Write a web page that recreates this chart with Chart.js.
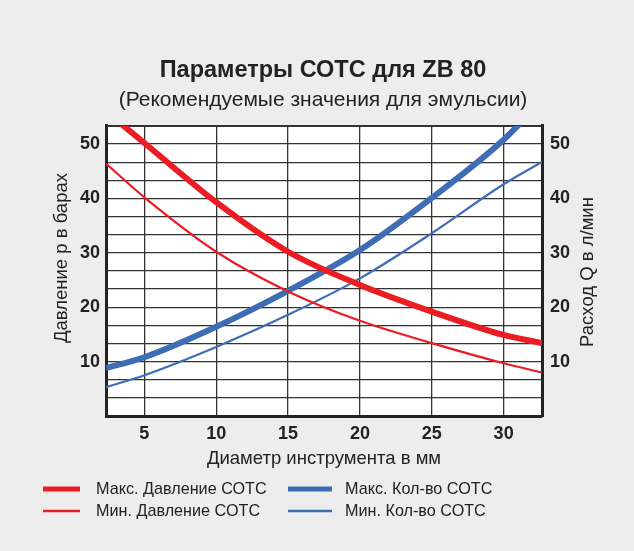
<!DOCTYPE html>
<html>
<head>
<meta charset="utf-8">
<script src="https://cdn.jsdelivr.net/npm/chart.js"></script>
<style>
  body { margin: 0; background: #ededed; }
  canvas { display: block; }
</style>
</head>
<body>
<canvas id="myChart" width="634" height="551"></canvas>
<script>
// данные
const diameters   = [2.33, 5, 10, 15, 20, 25, 30, 32.67];
const maxPressure = [56.0, 50.2, 39.3, 30.2, 24.1, 19.2, 14.9, 13.4];
const minPressure = [46.4, 40.2, 30.2, 22.9, 17.5, 13.4, 9.7, 8.0];
const maxFlow     = [8.8, 10.8, 16.4, 23.0, 30.5, 40.1, 50.8, 58.0];
const minFlow     = [5.3, 7.5, 12.7, 18.6, 25.3, 33.6, 42.6, 46.7];

const xTicks = [5, 10, 15, 20, 25, 30];
const yLabels = [10, 20, 30, 40, 50];
const yGridStep = 10 / 3;
const yMax = 160 / 3;

const titleText = 'Параметры СОТС для ZB 80';
const subtitleText = '(Рекомендуемые значения для эмульсии)';
const xTitle = 'Диаметр инструмента в мм';
const yTitle = 'Давление р в барах';
const y2Title = 'Расход Q в л/мин';

const RED = '#ec1c24';
const BLUE = '#3e6db5';
const FONT = '"Liberation Sans", Arial, sans-serif';
const TEXT = '#222';

const pts = (ys) => diameters.map((d, i) => ({ x: d, y: ys[i] }));

function yGrid(scale) {
  scale.ticks = [];
  for (let i = 0; i <= 16; i++) scale.ticks.push({ value: i * yGridStep });
}
function yLabel(value) {
  const v = Math.round(value);
  return (Math.abs(value - v) < 0.01 && yLabels.includes(v)) ? String(v) : '';
}

// фон, подписи осей Y и легенда
const extras = {
  id: 'extras',
  beforeDraw(chart) {
    const { ctx, chartArea: a } = chart;
    ctx.save();
    ctx.fillStyle = '#ededed';
    ctx.fillRect(0, 0, chart.width, chart.height);
    ctx.fillStyle = '#fff';
    ctx.fillRect(a.left, a.top, a.right - a.left, a.bottom - a.top);
    ctx.restore();
  },
  afterDraw(chart) {
    const ctx = chart.ctx;
    ctx.save();
    ctx.fillStyle = TEXT;
    ctx.font = '18.5px ' + FONT;
    ctx.textAlign = 'center';
    ctx.textBaseline = 'middle';
    [[yTitle, 62, 258], [y2Title, 588, 272]].forEach(([t, x, y]) => {
      ctx.save();
      ctx.translate(x, y);
      ctx.rotate(-Math.PI / 2);
      ctx.fillText(t, 0, 0);
      ctx.restore();
    });

    // легенда в две колонки
    const cols = [{ x0: 43, x1: 80, tx: 96 }, { x0: 288, x1: 332, tx: 345 }];
    const rows = [489, 511];
    ctx.textAlign = 'left';
    ctx.font = '16.2px ' + FONT;
    chart.data.datasets.forEach((ds, i) => {
      const c = cols[Math.floor(i / 2)];
      const y = rows[i % 2];
      ctx.strokeStyle = ds.borderColor;
      ctx.lineWidth = ds.borderWidth > 3 ? 5 : 2.5;
      ctx.beginPath();
      ctx.moveTo(c.x0, y);
      ctx.lineTo(c.x1, y);
      ctx.stroke();
      ctx.fillStyle = TEXT;
      ctx.fillText(ds.label, c.tx, y + 1);
    });
    ctx.restore();
  }
};

new Chart(document.getElementById('myChart'), {
  type: 'line',
  data: {
    datasets: [
      { label: 'Макс. Давление СОТС', data: pts(maxPressure), borderColor: RED, borderWidth: 6, yAxisID: 'y' },
      { label: 'Мин. Давление СОТС', data: pts(minPressure), borderColor: RED, borderWidth: 2.2, yAxisID: 'y' },
      { label: 'Макс. Кол-во СОТС', data: pts(maxFlow), borderColor: BLUE, borderWidth: 6, yAxisID: 'y2' },
      { label: 'Мин. Кол-во СОТС', data: pts(minFlow), borderColor: BLUE, borderWidth: 2.2, yAxisID: 'y2' }
    ]
  },
  options: {
    responsive: false,
    animation: false,
    devicePixelRatio: 1,
    layout: { padding: { left: 12, right: 0, top: 0, bottom: 80 } },
    elements: {
      point: { radius: 0, hoverRadius: 0 },
      line: { cubicInterpolationMode: 'monotone', fill: false, borderCapStyle: 'butt' }
    },
    plugins: {
      legend: { display: false },
      tooltip: { enabled: false },
      title: {
        display: true, text: titleText, color: TEXT,
        font: { family: FONT, size: 23.5, weight: 'bold' },
        padding: { top: 56, bottom: 3 }
      },
      subtitle: {
        display: true, text: subtitleText, color: TEXT,
        font: { family: FONT, size: 21 },
        padding: { top: 0, bottom: 13.5 }
      }
    },
    scales: {
      x: {
        type: 'linear', min: 2.33, max: 32.67,
        afterBuildTicks: (s) => { s.ticks = xTicks.map(v => ({ value: v })); },
        afterFit: (s) => { s.height = 55; },
        grid: { color: '#333', lineWidth: 1.3, drawTicks: false },
        border: { display: true, width: 3, color: '#222' },
        ticks: { color: TEXT, padding: 7, autoSkip: false, maxRotation: 0, font: { family: FONT, size: 18, weight: 'bold' } },
        title: { display: true, text: xTitle, color: TEXT, font: { family: FONT, size: 18.5 }, padding: { top: 0, bottom: 1 } }
      },
      y: {
        position: 'left', min: 0, max: yMax,
        afterBuildTicks: yGrid,
        afterFit: (s) => { s.width = 94; },
        grid: {
          color: '#333', drawTicks: false,
          lineWidth: (c) => c.index === 16 ? 2 : 1.3
        },
        border: { display: true, width: 3, color: '#222' },
        ticks: { color: TEXT, padding: 6, autoSkip: false, callback: yLabel, font: { family: FONT, size: 18, weight: 'bold' } }
      },
      y2: {
        position: 'right', min: 0, max: yMax,
        afterBuildTicks: yGrid,
        afterFit: (s) => { s.width = 92; },
        grid: { display: false, drawTicks: false },
        border: { display: true, width: 3, color: '#222' },
        ticks: { color: TEXT, padding: 8, autoSkip: false, callback: yLabel, font: { family: FONT, size: 18, weight: 'bold' } }
      }
    }
  },
  plugins: [extras]
});
</script>
</body>
</html>
